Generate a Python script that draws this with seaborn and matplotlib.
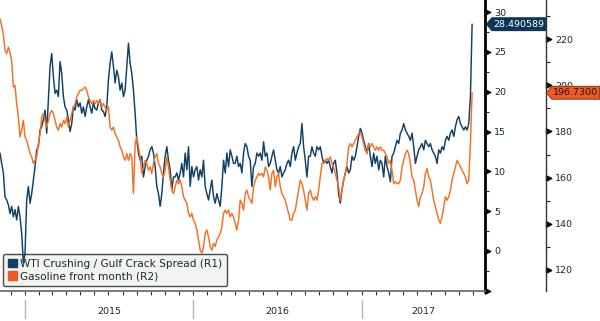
import numpy as np
import pandas as pd
import matplotlib
matplotlib.use("Agg")
import matplotlib.pyplot as plt
import matplotlib.dates as mdates
import matplotlib.transforms as mtrans
from matplotlib.patches import Patch
from matplotlib.path import Path
from matplotlib.ticker import FixedLocator, FuncFormatter, NullFormatter
import seaborn as sns

# ---------------- data ----------------
start_date = "2014-11-08"
end_date = "2017-08-29"

crack_spread_r1 = [
    12.3, 11.0, 9.8, 6.8, 6.4, 5.8, 4.7, 5.6, 4.3, 5.2, 3.9, 5.6, 4.3, 2.2, -1.5, -0.3, 6.4, 8.1, 6.0, 7.2,
    8.9, 10.6, 12.7, 13.1, 15.2, 15.6, 16.5, 17.7, 14.8, 19.0, 23.2, 24.8, 21.9, 19.8, 20.2, 19.4, 23.8, 22.3, 19.4, 18.1,
    17.7, 16.5, 15.0, 16.0, 18.1, 17.7, 19.0, 18.1, 18.6, 17.3, 18.1, 16.9, 18.1, 19.0, 18.1, 17.3, 18.6, 17.9, 17.7, 18.6,
    19.0, 17.7, 17.5, 16.9, 18.1, 21.5, 23.6, 25.0, 23.2, 21.1, 22.7, 21.9,
    20.2, 21.1, 19.4, 20.2, 23.2, 26.1, 23.6, 22.3, 20.2, 17.3, 13.9, 12.3, 11.4, 11.9, 9.3, 10.6, 11.4, 11.9, 12.7, 13.1,
    12.3, 10.6, 8.1, 7.2, 5.6, 7.2, 9.8, 11.9, 13.1, 11.4, 10.2, 7.7, 9.3, 9.3, 9.8, 8.9, 9.8, 11.0, 9.3, 12.3,
    10.2, 13.1, 8.1, 10.6, 9.3, 10.2, 10.6, 8.9, 10.2, 9.3, 11.4, 8.1, 7.2, 6.4, 7.7, 8.9, 6.8, 6.0, 7.2, 6.4,
    5.6, 8.1, 11.4, 9.8, 12.3, 10.6, 12.7, 11.9, 11.0, 11.0, 11.9, 10.6,
    11.0, 9.8, 12.3, 13.5, 13.1, 11.9, 11.4, 8.1, 10.6, 11.0, 12.3, 11.9, 12.3, 11.4, 13.7, 11.9, 12.3, 10.6, 11.0, 11.9,
    12.7, 11.4, 10.2, 9.8, 10.6, 9.3, 9.8, 10.2, 11.0, 11.4, 10.6, 12.3, 13.1, 11.4, 12.3, 13.1, 13.5, 16.0, 13.1, 11.4,
    9.3, 11.9, 11.9, 13.1, 12.3, 11.9, 13.1, 12.7, 13.1, 11.9, 11.0, 11.4, 11.0, 11.4, 10.6, 9.8, 11.0, 11.4, 9.8, 7.2,
    6.0, 7.7, 8.9, 9.8, 10.6, 9.8, 10.2, 11.9, 11.4, 11.9, 13.1, 14.4,
    15.4, 14.8, 13.9, 13.1, 12.3, 13.5, 11.9, 10.6, 12.3, 11.0, 11.9, 10.2, 11.4, 11.0, 9.3, 11.9, 10.6, 9.8, 8.7, 11.9,
    12.3, 13.1, 13.9, 13.5, 14.8, 15.2, 16.0, 15.2, 14.8, 14.4, 13.9, 14.8, 13.1, 11.0, 11.9, 12.7, 13.1, 13.5, 12.7, 13.9,
    13.5, 13.1, 13.5, 12.7, 12.3, 11.9, 11.0, 12.7, 12.3, 13.1, 12.7, 13.9, 14.4, 13.9, 14.8, 15.2, 14.4, 15.6, 16.5, 16.9,
    16.0, 15.6, 15.2, 15.6, 15.2, 16.0, 19.4, 28.490589,
]

gasoline_r2 = [
    228.7, 225.8, 222.2, 215.0, 213.6, 216.5, 214.3, 210.7, 199.2, 199.9, 192.0, 186.2, 177.6, 180.5, 184.8, 177.6, 176.2, 173.3, 170.4, 169.0,
    166.1, 167.5, 169.0, 174.7, 179.0, 186.2, 187.7, 184.8, 181.9, 184.8, 187.7, 189.1, 187.7, 184.8, 181.9, 180.5, 183.4, 181.9, 184.8, 183.4,
    186.2, 181.9, 184.8, 187.7, 190.6, 192.0, 194.9, 196.3, 197.8, 197.8, 198.5, 199.2, 197.8, 194.9, 193.4, 192.0, 193.4, 192.0, 193.4, 192.0,
    193.4, 190.6, 192.0, 190.6, 189.1, 190.6, 181.9, 180.5, 181.9, 179.0, 177.6, 176.2,
    173.3, 171.8, 169.0, 167.5, 170.4, 167.5, 170.4, 169.0, 153.1, 174.7, 177.6, 173.3, 169.0, 161.8, 164.6, 167.5, 166.1, 163.2, 164.6, 161.8,
    166.1, 169.0, 170.4, 166.1, 164.6, 161.8, 160.3, 163.2, 169.0, 164.6, 158.9, 154.6, 153.1, 156.0, 158.9, 157.4, 158.9, 156.0, 151.7, 150.2,
    148.8, 144.5, 143.0, 144.5, 141.6, 140.2, 137.3, 133.0, 128.6, 127.2, 130.1, 135.8, 137.3, 134.4, 130.1, 128.6, 131.5, 130.1, 133.0, 134.4,
    135.8, 138.7, 144.5, 145.9, 144.5, 145.9, 143.0, 144.5, 143.0, 140.2, 137.3, 141.6,
    150.2, 148.8, 145.9, 153.1, 154.6, 151.7, 150.2, 148.8, 156.0, 158.9, 160.3, 161.8, 161.0, 161.8, 160.3, 164.6, 163.2, 160.3, 154.6, 161.8,
    163.2, 156.0, 160.3, 161.8, 156.0, 153.1, 151.7, 150.2, 147.4, 144.5, 141.6, 141.6, 144.5, 145.9, 150.2, 154.6, 158.9, 157.4, 154.6, 150.2,
    145.9, 153.1, 154.6, 151.7, 150.2, 151.7, 150.2, 154.6, 160.3, 166.1, 166.1, 167.5, 168.2, 167.5, 169.0, 166.1, 164.6, 161.8, 158.9, 156.0,
    150.2, 154.6, 158.9, 161.8, 166.1, 173.3, 174.7, 173.3, 174.7, 176.2, 177.6, 179.0,
    179.8, 177.6, 174.7, 171.8, 170.4, 174.7, 173.3, 174.7, 173.3, 171.8, 173.3, 171.8, 173.3, 171.8, 171.8, 170.4, 169.0, 166.1, 167.5, 163.2,
    157.4, 158.2, 157.4, 157.4, 158.9, 164.6, 167.5, 170.4, 171.8, 170.4, 166.1, 160.3, 158.9, 154.6, 150.2, 147.4, 151.7, 153.1, 156.0, 161.8,
    163.9, 160.3, 158.9, 154.6, 150.2, 147.4, 144.5, 141.6, 140.2, 143.0, 147.4, 151.7, 150.2, 151.7, 154.6, 158.9, 161.8, 164.6, 167.5, 166.1,
    164.6, 163.2, 161.8, 160.3, 157.4, 158.9, 174.7, 196.73,
]

series_labels = ["WTI Crushing / Gulf Crack Spread (R1)", "Gasoline front month (R2)"]
year_labels = ["2015", "2016", "2017"]
r1_ticks = [-5, 0, 5, 10, 15, 20, 25, 30]
r2_ticks = [120, 140, 160, 180, 200, 220]

# ---------------- style ----------------
BLUE = "#113f66"
ORANGE = "#f47124"
TAG_BLUE = "#0d3656"
TAG_ORANGE = "#f05a22"
TEXT = "#1b2733"
FS = 6.8
LEG_FS = 7.6

sns.set_theme(style="white")
plt.rcParams["font.family"] = ["DejaVu Sans"]

dates = pd.date_range(start_date, end_date, periods=len(crack_spread_r1))
df = pd.DataFrame({"date": dates, "r1": crack_spread_r1, "r2": gasoline_r2})

fig = plt.figure(figsize=(6.0, 3.21), dpi=100)
ax = fig.add_axes([0.0, 30 / 321, 485 / 600, 291 / 321])

sns.lineplot(data=df, x="date", y="r1", ax=ax, color=BLUE, linewidth=1.05, zorder=2)
ax2 = ax.twinx()
sns.lineplot(data=df, x="date", y="r2", ax=ax2, color=ORANGE, linewidth=1.05, zorder=2)

x_right = pd.Timestamp("2017-09-26")
ax.set_xlim(dates[0], x_right)
ax.set_ylim(-5.03, 31.53)
ax2.set_ylim(110.9, 236.9)
for a in (ax, ax2):
    a.set_xlabel("")
    a.set_ylabel("")

# spines
for s in ("top", "left"):
    ax.spines[s].set_visible(False)
ax.spines["right"].set_color("black")
ax.spines["right"].set_linewidth(2.0)
ax.spines["bottom"].set_color("#707070")
ax.spines["bottom"].set_linewidth(1.3)
for s in ("top", "left", "bottom"):
    ax2.spines[s].set_visible(False)
ax2.spines["right"].set_position(("axes", 546 / 485))
ax2.spines["right"].set_color("#333333")
ax2.spines["right"].set_linewidth(1.0)

# x axis: monthly ticks, no labels
ax.xaxis.set_major_locator(mdates.MonthLocator())
ax.xaxis.set_major_formatter(NullFormatter())
ax.tick_params(axis="x", which="major", bottom=True, length=3, width=0.8,
               color="#333333", direction="out")

# y axes
tri = Path([(0, -1), (2, 0), (0, 1), (0, -1)], closed=True)


def style_y(a, major, minor, fmt):
    a.yaxis.set_ticks_position("right")
    a.yaxis.set_major_locator(FixedLocator(major))
    a.yaxis.set_minor_locator(FixedLocator(minor))
    a.yaxis.set_major_formatter(FuncFormatter(fmt))
    a.tick_params(axis="y", which="both", left=False, labelleft=False,
                  right=True, labelright=True, direction="out")
    a.tick_params(axis="y", which="major", length=4, width=1, color="black",
                  pad=2.5, labelsize=FS, labelcolor=TEXT)
    a.tick_params(axis="y", which="minor", length=3, width=0.8, color="#222222")
    for t in a.yaxis.get_major_ticks():
        t.tick2line.set_marker(tri)
        t.tick2line.set_markersize(7.5)
        t.tick2line.set_markerfacecolor("black")
        t.tick2line.set_markeredgecolor("black")


style_y(ax, r1_ticks, [v + 2.5 for v in r1_ticks], lambda v, p: "" if v < 0 else f"{v:g}")
style_y(ax2, r2_ticks, [v + 10 for v in r2_ticks], lambda v, p: f"{v:g}")

# year separators and labels below the axis
trans = mtrans.blended_transform_factory(ax.transData, ax.transAxes)
for i, yl in enumerate(year_labels):
    y0 = pd.Timestamp(f"{yl}-01-01")
    y1 = min(pd.Timestamp(f"{int(yl) + 1}-01-01"), x_right)
    ax.plot([y0, y0], [-0.031, -0.093], transform=trans, color="#b5b5b5",
            linewidth=1.0, clip_on=False)
    ax.text(y0 + (y1 - y0) / 2, -0.069, yl, transform=trans, ha="center",
            va="center", fontsize=FS, color=TEXT)

# legend (drawn beneath lines)
handles = [Patch(facecolor=BLUE, edgecolor=BLUE), Patch(facecolor=TAG_ORANGE, edgecolor=TAG_ORANGE)]
leg = ax.legend(handles, series_labels, loc="lower left", bbox_to_anchor=(0.006, 0.017),
                borderaxespad=0, frameon=True, fancybox=True, fontsize=LEG_FS,
                handlelength=0.85, handleheight=0.85, handletextpad=0.3,
                labelspacing=0.25, borderpad=0.45)
leg.set_zorder(1)
fr = leg.get_frame()
fr.set_facecolor("#f1f4f0")
fr.set_edgecolor("#4a4a4a")
fr.set_linewidth(1.0)
fr.set_alpha(1.0)
for t in leg.get_texts():
    t.set_color(TEXT)


# last-value tags
def tag_box(x0, y0, width, height, mutation_size):
    pad = mutation_size * 0.2
    x0 -= pad * 0.6
    y0 -= pad
    width += 1.4 * pad
    height += 2 * pad
    x1, y1 = x0 + width, y0 + height
    ym = (y0 + y1) / 2
    tip = height * 0.42
    return Path([(x0, y0), (x1, y0), (x1, y1), (x0, y1), (x0 - tip, ym), (x0, y0)], closed=True)


t1 = mtrans.blended_transform_factory(ax.transAxes, ax.transData)
ax.text(493 / 485, crack_spread_r1[-1], f"{crack_spread_r1[-1]:.6f}", transform=t1,
        ha="left", va="center", fontsize=FS, color="white", clip_on=False, zorder=10,
        bbox=dict(boxstyle=tag_box, fc=TAG_BLUE, ec=TAG_BLUE, lw=0.8))
t2 = mtrans.blended_transform_factory(ax2.transAxes, ax2.transData)
ax2.text(553 / 485, gasoline_r2[-1], f"{gasoline_r2[-1]:.4f}", transform=t2,
         ha="left", va="center", fontsize=FS, color="#1a1a1a", clip_on=False, zorder=10,
         bbox=dict(boxstyle=tag_box, fc=TAG_ORANGE, ec="#9a3a10", lw=0.8))

fig.savefig("out.png", dpi=100)
